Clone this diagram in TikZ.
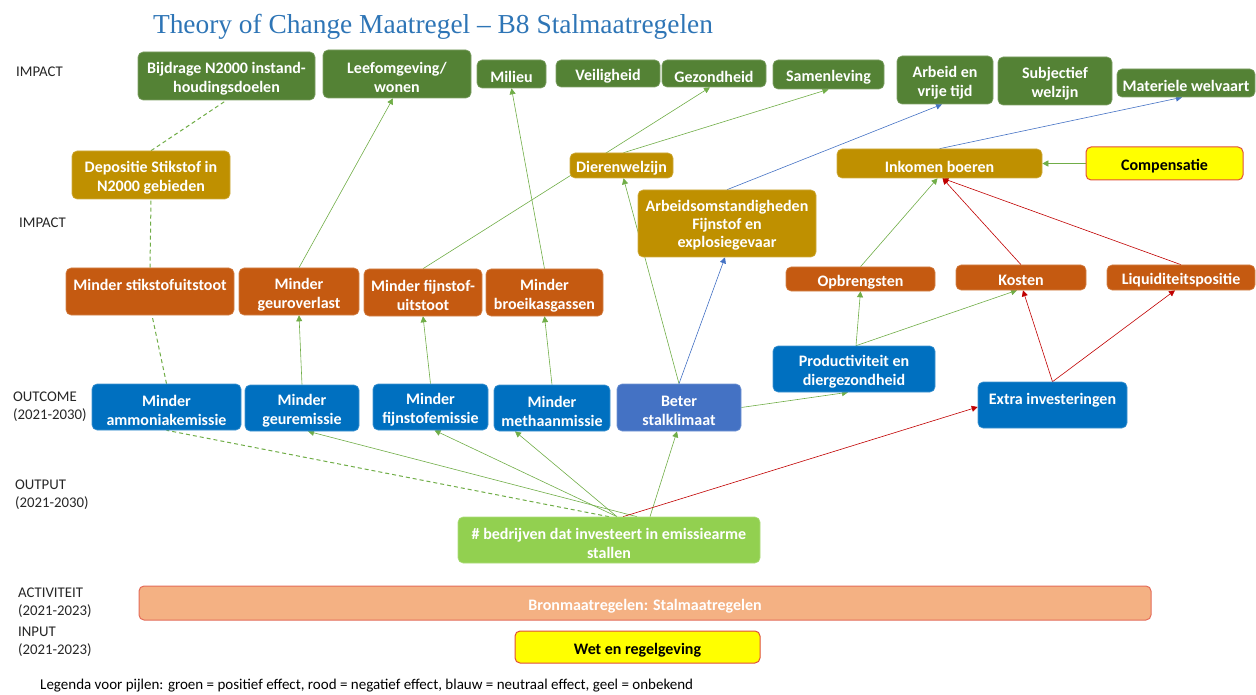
\documentclass[tikz,border=0pt]{standalone}
\usepackage{fontspec}
\setmainfont{Carlito}
\newfontfamily\titlefont{Liberation Serif}
\usetikzlibrary{arrows.meta}
\pgfdeclarelayer{bg}
\pgfsetlayers{bg,main}
\definecolor{cdg}{HTML}{548235}
\definecolor{cgold}{HTML}{BF9000}
\definecolor{corange}{HTML}{C55A11}
\definecolor{cblue}{HTML}{0070C0}
\definecolor{cblue2}{HTML}{4472C4}
\definecolor{clg}{HTML}{92D050}
\definecolor{cact}{HTML}{F4B183}
\definecolor{cactb}{HTML}{E46C5A}
\definecolor{cyel}{HTML}{FFFF00}
\definecolor{cyelb}{HTML}{E0503A}
\definecolor{agreen}{HTML}{70AD47}
\definecolor{ared}{HTML}{C00000}
\definecolor{ablue}{HTML}{4472C4}
\definecolor{ctitle}{HTML}{2E75B6}
\definecolor{clabel}{HTML}{262626}
\newcommand\boxfont{\fontsize{16}{19}\selectfont\bfseries}
\newcommand\lblfont{\fontsize{14.8}{18}\selectfont}
\tikzset{
  box/.style={rounded corners=5pt, fill=#1, draw=#1!75!white, line width=0.6pt, inner sep=0pt},
  sz/.style 2 args={minimum width=#1pt, minimum height=#2pt},
  ybox/.style={rounded corners=5pt, fill=cyel, draw=cyelb, line width=1pt, inner sep=0pt},
  btxt/.style={font=\boxfont, align=center, inner sep=0pt},
  lbl/.style={anchor=west, align=left, font=\lblfont, text=clabel, inner sep=0pt},
  tip/.style={-{Triangle[length=6pt,width=6pt]}},
  garr/.style={draw=agreen, line width=0.6pt, tip},
  rarr/.style={draw=ared, line width=0.6pt, tip},
  barr/.style={draw=ablue, line width=0.6pt, tip},
  gdash/.style={draw=agreen, line width=1pt, dash pattern=on 4pt off 3pt},
}
% \bx[text colour]{box style}{w}{h}{name}{x,y}{text}
\newcommand\bx[7][white]{%
  \node[#2, sz={#3}{#4}] (#5) at (#6) {};
  \node[btxt, text=#1] (#5t) at ([yshift=-3pt]#5.center) {#7};}
\begin{document}
\begin{tikzpicture}[x=1pt,y=-1pt]
\useasboundingbox (0,0) rectangle (1256,695);

% title
\node[font=\titlefont\fontsize{27.4}{31}\selectfont, text=ctitle, inner sep=0pt] (title) at (433,27)
  {Theory of Change Maatregel \textendash{} B8 Stalmaatregelen};

% left labels
\node[lbl] (l1) at (16,72) {IMPACT};
\node[lbl] (l2) at (19,223) {IMPACT};
\node[lbl] (l3) at (13,407) {OUTCOME\\(2021-2030)};
\node[lbl] (l4) at (15,495) {OUTPUT\\(2021-2030)};
\node[lbl] (l5) at (18,603) {ACTIVITEIT\\(2021-2023)};
\node[lbl] (l6) at (18,642) {INPUT\\(2021-2023)};

% impact row (green)
\bx{box=cdg}{177}{48}{bij}{226.5,76}{Bijdrage N2000 instand-\\houdingsdoelen}
\bx{box=cdg}{148}{48}{leef}{397,74}{Leefomgeving/\\wonen}
\bx{box=cdg}{69}{28}{mil}{511.5,74}{Milieu}
\bx{box=cdg}{104}{27}{vei}{608,73.5}{Veiligheid}
\bx{box=cdg}{104}{27}{gez}{714,73.5}{Gezondheid}
\bx{box=cdg}{111}{29}{sam}{828.5,74.5}{Samenleving}
\bx{box=cdg}{96}{48}{arb}{945,80}{Arbeid en\\vrije tijd}
\bx{box=cdg}{114}{48}{sub}{1055,81}{Subjectief\\welzijn}
\bx{box=cdg}{138}{28}{mat}{1186,83}{Materiele welvaart}

% gold row
\bx{box=cgold}{158}{48}{dep}{151,175}{Depositie Stikstof in\\N2000 gebieden}
\bx{box=cgold}{103}{25}{die}{621.5,165.5}{Dierenwelzijn}
\bx{box=cgold}{205}{29}{ink}{939.5,163.5}{Inkomen boeren}
\bx[black]{ybox}{157}{33}{comp}{1164.5,163.5}{Compensatie}
\node[box=cgold, sz={178}{67}] (aos) at (727,223.5) {};
\node[btxt, text=white, font=\fontsize{16}{18}\selectfont\bfseries] (aost) at ([yshift=-2pt]aos.center)
  {Arbeidsomstandigheden\\Fijnstof en\\explosiegevaar};

% orange row
\bx{box=corange}{168}{47}{mst}{150,291.5}{Minder stikstofuitstoot\\\mbox{}}
\bx{box=corange}{120}{47}{mgo}{299,291.5}{Minder\\geuroverlast}
\bx{box=corange}{118}{47}{mfu}{423,292.5}{Minder fijnstof-\\uitstoot}
\bx{box=corange}{117}{47}{mbk}{544.5,292.5}{Minder\\broeikasgassen}
\bx{box=corange}{149}{24}{opb}{860.5,279}{Opbrengsten}
\bx{box=corange}{130}{25}{kos}{1021,277.5}{Kosten}
\bx{box=corange}{148}{25}{liq}{1181,277.5}{Liquiditeitspositie}

% outcome row (blue)
\bx{box=cblue}{149}{46}{mam}{166.5,407}{Minder\\ammoniakemissie}
\bx{box=cblue}{114}{46}{mge}{302,408}{Minder\\geuremissie}
\bx{box=cblue}{115}{46}{mfe}{430.5,407}{Minder\\fijnstofemissie}
\bx{box=cblue}{116}{46}{mme}{552,408}{Minder\\methaanmissie}
\bx{box=cblue2}{124}{47}{bst}{679,407.5}{Beter\\stalklimaat}
\bx{box=cblue}{162}{46}{pro}{854,369}{Productiviteit en\\diergezondheid}
\bx{box=cblue}{149}{46}{ext}{1052.5,405}{Extra investeringen\\\mbox{}}

% output
\bx{box=clg}{302}{46}{out}{609,540}{\# bedrijven dat investeert in emissiearme\\stallen}

% activity and input
\node[box=cact, draw=cactb, line width=1pt, sz={1012}{34}] (act) at (645,603) {};
\node[btxt, text=white] (actt) at ([yshift=-3pt]act.center) {Bronmaatregelen: Stalmaatregelen};
\bx[black]{ybox}{245}{32}{inp}{637.5,647}{Wet en regelgeving}

% legend
\node[anchor=west, inner sep=0pt, font=\fontsize{15}{18}\selectfont, text=black] (leg) at (40,686)
  {Legenda voor pijlen: groen = positief effect, rood = negatief effect, blauw = neutraal effect, geel = onbekend};

% connectors
\begin{pgfonlayer}{bg}
\draw[gdash] (dep.north) -- (bij.south);
\draw[gdash] (mst.north) -- (dep.south);
\draw[gdash] (mam.north) -- ([xshift=2pt]mst.south);
\draw[gdash] (out.north) -- (mam.south);

\draw[garr] ([xshift=28pt]out.north) -- ([xshift=6pt]mge.south);
\draw[garr] ([xshift=8pt]out.north) -- ([xshift=4pt]mfe.south);
\draw[garr] ([xshift=8pt]out.north) -- ([xshift=-37pt]mme.south);
\draw[garr] ([xshift=41pt]out.north) -- ([xshift=-2pt]bst.south);
\draw[rarr] ([xshift=14pt]out.north) -- ([yshift=-2pt]ext.west);

\draw[garr] (mge.north) -- (mgo.south);
\draw[garr] (mfe.north) -- (mfu.south);
\draw[garr] (mme.north) -- (mbk.south);
\draw[garr] (mgo.north) -- ([xshift=-4pt]leef.south);
\draw[garr] (mfu.north) -- ([xshift=-4pt]gez.south);
\draw[garr] (mbk.north) -- (mil.south);
\draw[garr] (bst.north) -- ([xshift=2pt]die.south);
\draw[barr] (bst.north) -- ([xshift=-2pt]aos.south);
\draw[garr] ([xshift=2pt]die.north) -- (sam.south);
\draw[barr] (aos.north) -- ([xshift=-3pt]arb.south);
\draw[barr] (ink.north) -- ([xshift=-4pt]mat.south);
\draw[garr] (comp.west) -- (ink.east);
\draw[garr] (opb.north) -- ([xshift=-2pt]ink.south);
\draw[rarr] (kos.north) -- ([xshift=3pt]ink.south);
\draw[rarr] (liq.north) -- ([xshift=3pt]ink.south);
\draw[garr] ([xshift=2pt]pro.north) -- (opb.south);
\draw[garr] ([xshift=2pt]pro.north) -- ([xshift=-4pt]kos.south);
\draw[rarr] (ext.north) -- ([xshift=2pt]kos.south);
\draw[rarr] (ext.north) -- ([xshift=-6pt]liq.south);
\draw[garr] (bst.east) -- ([xshift=-6pt]pro.south);
\end{pgfonlayer}
\end{tikzpicture}
\end{document}
